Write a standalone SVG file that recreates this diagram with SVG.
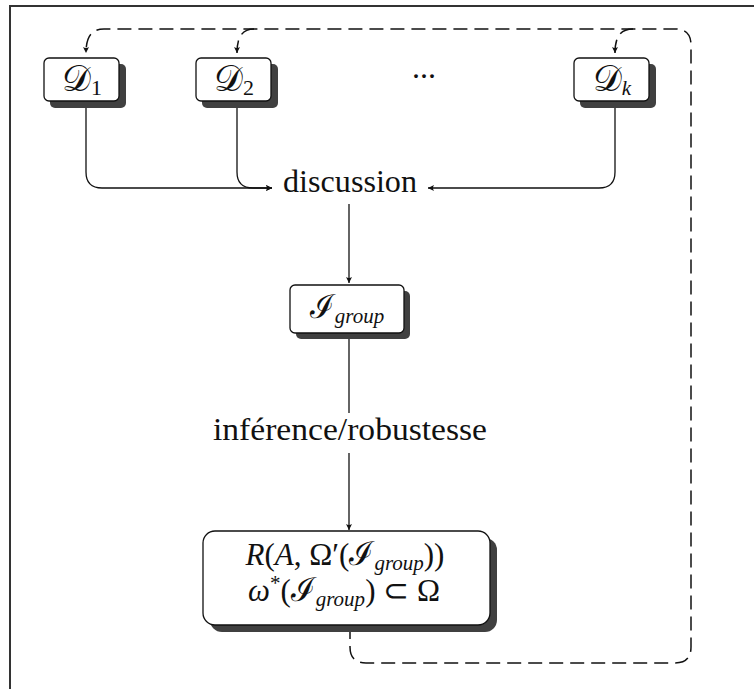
<svg xmlns="http://www.w3.org/2000/svg" width="754" height="689" viewBox="0 0 754 689" font-family="'Liberation Serif', 'Times New Roman', serif">
  <defs>
    <marker id="arr" markerUnits="userSpaceOnUse" markerWidth="10" markerHeight="10" viewBox="-7 -5 10 10" refX="0" refY="0" orient="auto">
      <path d="M0,0 L-6,-3 Q-4,0 -6,3 Z" fill="#111"/>
    </marker>
  </defs>
  <style>
    .frame { fill: none; stroke: #333; stroke-width: 2; }
    .box { fill: #fff; stroke: #111; stroke-width: 1.3; }
    .shadow { fill: #404040; }
    .conn { fill: none; stroke: #111; stroke-width: 1.3; }
    .dash { fill: none; stroke: #111; stroke-width: 1.5; stroke-dasharray: 14 7; }
    .t { font-family: 'Liberation Serif', 'Times New Roman', serif; font-size: 32px; fill: #111; }
    .m { font-family: 'Liberation Serif', 'Times New Roman', serif; font-size: 31px; fill: #111; }
    .cal { font-family: 'Liberation Serif', serif; font-size: 36px; }
    .cali { font-family: 'Liberation Serif', serif; font-size: 33px; }
    .it { font-style: italic; }
    .sub { font-size: 21px; font-style: italic; }
  </style>
  <rect width="754" height="689" fill="#fff"/>
  <path class="frame" d="M10,689 V6 H754"/>

  <g id="connectors">
    <path class="conn" d="M86,101 V172 Q86,188 102,188 H272" marker-end="url(#arr)"/>
    <path class="conn" d="M237,101 V172 Q237,188 253,188 H272" marker-end="url(#arr)"/>
    <path class="conn" d="M615,101 V172 Q615,188 599,188 H428" marker-end="url(#arr)"/>
    <path class="conn" d="M349,204 V283" marker-end="url(#arr)"/>
    <path class="conn" d="M349,333 V413"/>
    <path class="conn" d="M349,453 V530" marker-end="url(#arr)"/>
    <path class="dash" d="M350,625 V647 Q350,663 366,663 H675 Q691,663 691,647 V45 Q691,29 675,29 H104 C92,29 86,36 86,53" marker-end="url(#arr)"/>
    <path class="dash" d="M254,29 C243,29 237,36 237,53" marker-end="url(#arr)"/>
    <path class="dash" d="M633,29 C621,29 615,36 615,53" marker-end="url(#arr)"/>
  </g>

  <g id="D1">
    <rect class="shadow" x="50" y="64" width="76" height="44" rx="5"/>
    <rect class="box" x="44" y="58" width="75" height="43" rx="5"/>
    <text class="m" x="82" y="91" text-anchor="middle"><tspan class="cal">𝒟</tspan><tspan font-size="22" dy="4">1</tspan></text>
  </g>
  <g id="D2">
    <rect class="shadow" x="202" y="64" width="76" height="44" rx="5"/>
    <rect class="box" x="196" y="58" width="75" height="43" rx="5"/>
    <text class="m" x="234" y="91" text-anchor="middle"><tspan class="cal">𝒟</tspan><tspan font-size="22" dy="4">2</tspan></text>
  </g>
  <g id="dots">
    <text class="t" x="424" y="78" text-anchor="middle">...</text>
  </g>
  <g id="Dk">
    <rect class="shadow" x="580" y="64" width="76" height="44" rx="5"/>
    <rect class="box" x="574" y="58" width="75" height="43" rx="5"/>
    <text class="m" x="612" y="91" text-anchor="middle"><tspan class="cal">𝒟</tspan><tspan class="sub" dy="4">k</tspan></text>
  </g>
  <g id="discussion">
    <text class="t" x="350" y="192" text-anchor="middle" textLength="134" lengthAdjust="spacingAndGlyphs">discussion</text>
  </g>
  <g id="Igroup">
    <rect class="shadow" x="296" y="291" width="114" height="48" rx="5"/>
    <rect class="box" x="290" y="285" width="114" height="48" rx="5"/>
    <text class="m" x="347" y="318" text-anchor="middle"><tspan class="cali">ℐ</tspan><tspan class="sub" dy="5">group</tspan></text>
  </g>
  <g id="inference">
    <text class="t" x="350" y="440" text-anchor="middle" textLength="274" lengthAdjust="spacingAndGlyphs">inférence/robustesse</text>
  </g>
  <g id="result">
    <rect class="shadow" x="210" y="538" width="287" height="94" rx="12"/>
    <rect class="box" x="203" y="531" width="287" height="94" rx="12"/>
    <text class="m" x="345" y="565" text-anchor="middle"><tspan class="it">R</tspan>(<tspan class="it">A</tspan>, Ω′(<tspan class="cali">ℐ</tspan><tspan class="sub" dy="5">group</tspan><tspan dy="-5">))</tspan></text>
    <text class="m" x="344" y="601" text-anchor="middle"><tspan class="it">ω</tspan><tspan font-size="21" dy="-11">*</tspan><tspan dy="11">(</tspan><tspan class="cali">ℐ</tspan><tspan class="sub" dy="5">group</tspan><tspan dy="-5">) ⊂ Ω</tspan></text>
  </g>
</svg>
